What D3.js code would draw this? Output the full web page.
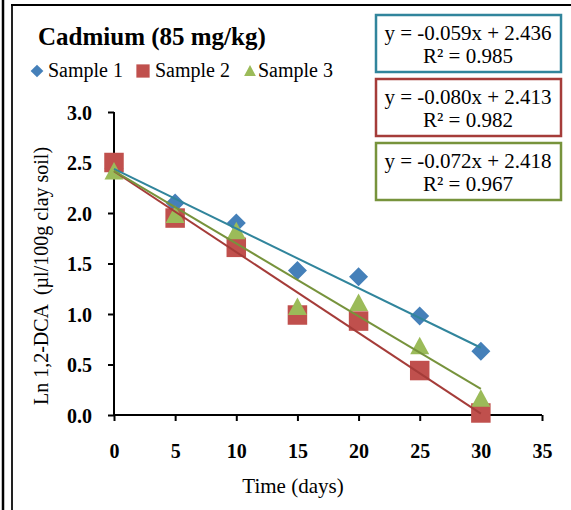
<!DOCTYPE html>
<html>
<head>
<meta charset="utf-8">
<script src="https://cdn.jsdelivr.net/npm/d3@7"></script>
<style>
  html, body { margin: 0; padding: 0; background: #fff; }
  svg { display: block; font-family: "Liberation Serif", "Times New Roman", serif; }
</style>
</head>
<body>
<svg id="chart" width="571" height="510"></svg>
<script>
// ---- data ----
const days = [0, 5, 10, 15, 20, 25, 30];
const sample1 = [2.44, 2.10, 1.90, 1.43, 1.37, 0.98, 0.63];
const sample2 = [2.50, 1.95, 1.66, 0.99, 0.93, 0.44, 0.02];
const sample3 = [2.41, 1.98, 1.82, 1.07, 1.11, 0.68, 0.16];
const seriesNames = ["Sample 1", "Sample 2", "Sample 3"];
const slopes = [-0.059, -0.080, -0.072];
const intercepts = [2.436, 2.413, 2.418];
const r2 = ["0.985", "0.982", "0.967"];
const xTicks = [0, 5, 10, 15, 20, 25, 30, 35];
const yTicks = [0, 0.5, 1.0, 1.5, 2.0, 2.5, 3.0];
const title = "Cadmium (85 mg/kg)";
const xTitle = "Time (days)";
const yTitle = "Ln 1,2-DCA  (µl/100g clay soil)";

const markerColors = ["#4580B9", "#C0504D", "#9BBB59"];
const lineColors = ["#31859C", "#A53C39", "#77933C"];
const shapes = ["diamond", "square", "triangle"];

const svg = d3.select("#chart");

// outer frame lines
svg.append("line").attr("x1", 3).attr("x2", 3).attr("y1", 0).attr("y2", 510)
  .attr("stroke", "#000").attr("stroke-width", 2.5);
svg.append("line").attr("x1", 12).attr("x2", 12).attr("y1", 5).attr("y2", 510)
  .attr("stroke", "#222").attr("stroke-width", 2);
svg.append("line").attr("x1", 11).attr("x2", 571).attr("y1", 5).attr("y2", 5)
  .attr("stroke", "#000").attr("stroke-width", 2);

// scales
const x = d3.scaleLinear().domain([0, 35]).range([114, 542]);
const y = d3.scaleLinear().domain([0, 3]).range([415, 112]);

// axes
const xAxis = d3.axisBottom(x).tickValues(xTicks).tickSize(6).tickFormat(d3.format("d"));
const yAxis = d3.axisLeft(y).tickValues(yTicks).tickSize(6).tickFormat(d3.format(".1f"));

const gx = svg.append("g").attr("transform", `translate(0,${y(0)})`).call(xAxis);
const gy = svg.append("g").attr("transform", `translate(${x(0)},0)`).call(yAxis);
[gx, gy].forEach(g => {
  g.select(".domain").attr("stroke", "#000").attr("stroke-width", 2);
  g.selectAll(".tick line").attr("stroke", "#000").attr("stroke-width", 2);
  g.selectAll(".tick text").attr("fill", "#000")
    .style("font-family", '"Liberation Serif", "Times New Roman", serif')
    .style("font-size", "20px").style("font-weight", "bold");
});
gx.select(".domain").attr("d", `M${x(0)},0H${x(35)}`);
gy.select(".domain").attr("d", `M0,${y(3)}V${y(0)}`);
gx.selectAll(".tick text").attr("dy", 0).attr("y", 43);
gy.selectAll(".tick text").attr("x", -22).attr("dy", "0.36em");

// marker generators
function markerPath(shape) {
  if (shape === "diamond") return "M0,-9.5L9.5,0L0,9.5L-9.5,0Z";
  if (shape === "square") return "M-9.75,-9.75H9.75V9.75H-9.75Z";
  return "M0,-9.5L9.5,8L-9.5,8Z";
}

const allSeries = [sample1, sample2, sample3];
allSeries.forEach((vals, i) => {
  svg.append("g").selectAll("path")
    .data(days.map((d, j) => ({ d, v: vals[j] })))
    .join("path")
    .attr("d", markerPath(shapes[i]))
    .attr("transform", p => `translate(${x(p.d)},${y(p.v)})`)
    .attr("fill", markerColors[i]);
});

// trendlines
slopes.forEach((s, i) => {
  const x0 = days[0], x1 = days[days.length - 1];
  svg.append("line")
    .attr("x1", x(x0)).attr("y1", y(intercepts[i] + s * x0))
    .attr("x2", x(x1)).attr("y2", y(intercepts[i] + s * x1))
    .attr("stroke", lineColors[i]).attr("stroke-width", 2);
});

// equation boxes
const fmt3 = v => (v < 0 ? "-" : "") + Math.abs(v).toFixed(3);
slopes.forEach((s, i) => {
  const top = 15 + i * 64;
  svg.append("rect").attr("x", 376).attr("y", top).attr("width", 185).attr("height", 57)
    .attr("fill", "#fff").attr("stroke", lineColors[i]).attr("stroke-width", 2.5);
  const t = svg.append("text").attr("x", 468).attr("text-anchor", "middle")
    .attr("fill", "#000").style("font-size", "21px");
  t.append("tspan").attr("x", 468).attr("y", top + 25)
    .text(`y = ${fmt3(s)}x + ${fmt3(intercepts[i])}`);
  t.append("tspan").attr("x", 468).attr("y", top + 48)
    .text(`R² = ${r2[i]}`);
});

// title
svg.append("text").attr("x", 38).attr("y", 45).attr("fill", "#000")
  .style("font-size", "25px").style("font-weight", "bold").text(title);

// legend
const legendX = [37, 143, 250];
const legendTextX = [48, 155, 258];
seriesNames.forEach((n, i) => {
  const sc = shapes[i] === "diamond" ? 0.67 : shapes[i] === "square" ? 0.68 : 0.62;
  svg.append("path").attr("d", markerPath(shapes[i]))
    .attr("transform", `translate(${legendX[i]},${71}) scale(${sc})`)
    .attr("fill", markerColors[i]);
  svg.append("text").attr("x", legendTextX[i]).attr("y", 77).attr("fill", "#000")
    .style("font-size", "20px").text(n);
});

// axis titles
svg.append("text").attr("x", 293).attr("y", 493).attr("text-anchor", "middle")
  .attr("fill", "#000").style("font-size", "21px").text(xTitle);
svg.append("text").attr("transform", "translate(48,276) rotate(-90)")
  .attr("text-anchor", "middle").attr("fill", "#000")
  .style("font-size", "20px").style("white-space", "pre").text(yTitle);
</script>
</body>
</html>
